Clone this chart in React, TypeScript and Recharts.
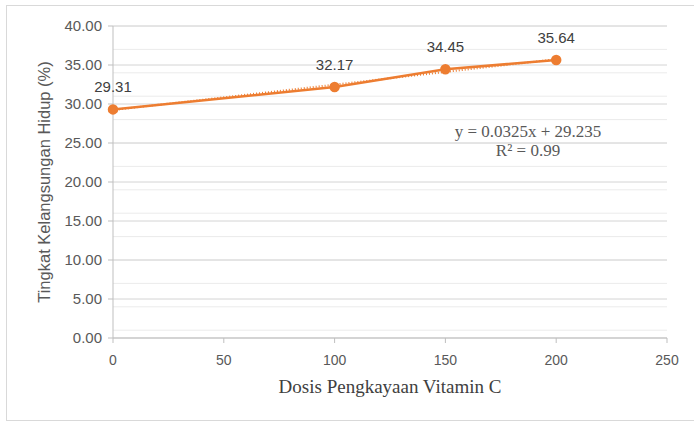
import React from "react";
import { LineChart, Line, XAxis, YAxis, CartesianGrid, LabelList } from "recharts";

const doses = [0, 100, 150, 200];
const survival = [29.31, 32.17, 34.45, 35.64];
const trendX = [0, 200];
const trendY = [29.235, 35.735];
const xTicks = [0, 50, 100, 150, 200, 250];
const yTicks = [0, 5, 10, 15, 20, 25, 30, 35, 40];
const minorY = Array.from({ length: 41 }, (_, i) => i);

const data = doses.map((x, i) => ({ x, y: survival[i] }));
const trend = trendX.map((x, i) => ({ x, t: trendY[i] }));

const ORANGE = "#ED7D31";

export default function App() {
  return (
    <div style={{ position: "absolute", left: 0, top: 0, width: 694, height: 423, background: "#fff", overflow: "hidden" }}>
      <div style={{ position: "absolute", left: 6, top: 5, width: 720, height: 416, border: "1px solid #d9d9d9", boxSizing: "border-box" }} />
      <LineChart
        width={694}
        height={423}
        margin={{ top: 26, right: 27, bottom: 25, left: 53 }}
        style={{ position: "absolute", left: 0, top: 0 }}
      >
        <CartesianGrid horizontalValues={minorY} vertical={false} stroke="#ebebeb" />
        <CartesianGrid horizontalValues={yTicks} vertical={false} stroke="#d4d4d4" />
        <XAxis
          type="number"
          dataKey="x"
          domain={[0, 250]}
          ticks={xTicks}
          height={60}
          stroke="#bfbfbf"
          tickSize={5}
          tick={{ fill: "#595959", fontSize: 14, fontFamily: "Liberation Sans, Arial, sans-serif" }}
          tickMargin={12}
          label={{
            value: "Dosis Pengkayaan Vitamin C",
            position: "insideBottom",
            offset: 5,
            fill: "#404040",
            fontSize: 19,
            fontFamily: "Liberation Serif, Times New Roman, serif",
          }}
          allowDuplicatedCategory={false}
        />
        <YAxis
          type="number"
          domain={[0, 40]}
          ticks={yTicks}
          width={60}
          stroke="#bfbfbf"
          tickSize={5}
          tickMargin={6}
          tickFormatter={(v: number) => v.toFixed(2)}
          tick={{ fill: "#595959", fontSize: 15, fontFamily: "Liberation Sans, Arial, sans-serif" }}
          label={{
            value: "Tingkat Kelangsungan Hidup (%)",
            angle: -90,
            position: "center",
            dx: -39,
            fill: "#595959",
            fontSize: 16.5,
            fontFamily: "Liberation Sans, Arial, sans-serif",
          }}
        />
        <Line
          data={trend}
          dataKey="t"
          type="linear"
          stroke={ORANGE}
          strokeWidth={2}
          strokeDasharray="1 2"
          dot={false}
          activeDot={false}
          isAnimationActive={false}
        />
        <Line
          data={data}
          dataKey="y"
          type="linear"
          stroke={ORANGE}
          strokeWidth={2.5}
          dot={{ r: 4, fill: ORANGE, stroke: ORANGE }}
          activeDot={false}
          isAnimationActive={false}
        >
          <LabelList
            dataKey="y"
            position="top"
            offset={17}
            formatter={(v: number) => v.toFixed(2)}
            style={{ fill: "#404040", fontSize: 15, fontFamily: "Liberation Sans, Arial, sans-serif" }}
          />
        </Line>
      </LineChart>
      <div style={{ position: "absolute", left: 428, top: 122, width: 200, textAlign: "center", fontFamily: "Liberation Serif, Times New Roman, serif", fontSize: 17, color: "#595959", lineHeight: "19px" }}>
        <div>y = 0.0325x + 29.235</div>
        <div>R² = 0.99</div>
      </div>
    </div>
  );
}
